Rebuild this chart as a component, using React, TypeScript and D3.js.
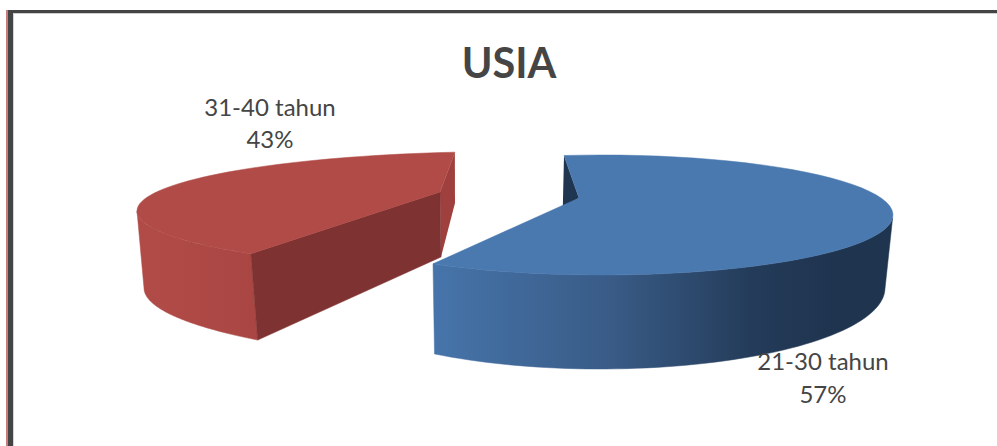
import React from "react";
import * as d3 from "d3";

// Chart content
const chartTitle = "USIA";
const categories = ["21-30 tahun", "31-40 tahun"];
const shares = [57, 43];

type Ellipse = { cx: number; cy: number; rx: number; ry: number };
type Pt = [number, number];

const WIDTH = 997;
const HEIGHT = 446;
const RAD = Math.PI / 180;

const pieAngles = d3.pie<number>().sort(null)(shares);

const pointOn = (e: Ellipse, t: number): Pt => [e.cx + e.rx * Math.cos(t), e.cy + e.ry * Math.sin(t)];

// Samples one slice's rim as screen points, walking the pie angle through a linear scale.
function rim(e: Ellipse, scale: d3.ScaleLinear<number, number>, a0: number, a1: number): Pt[] {
  return d3.range(0, 61).map((i) => pointOn(e, scale(a0 + ((a1 - a0) * i) / 60)));
}

const line = d3.line<Pt>();
const poly = (pts: Pt[]) => `${line(pts)}Z`;

// Blue slice: tilted disc, rim parameter runs from the back edge clockwise to the front-left corner
const blueArc = pieAngles[0];
const blueScale = d3.scaleLinear().domain([blueArc.startAngle, blueArc.endAngle]).range([-97.5 * RAD, 125.5 * RAD]);
const blueTop: Ellipse = { cx: 602, cy: 215, rx: 291, ry: 60 };
const blueBottom: Ellipse = { cx: 600, cy: 288, rx: 285, ry: 81 };
const blueHub: Pt = [579, 198];

const blueTopRim = rim(blueTop, blueScale, blueArc.startAngle, blueArc.endAngle);
const blueBottomRim = rim(blueBottom, blueScale, blueArc.startAngle, blueArc.endAngle);
const blueRightT = blueScale.invert(3 * RAD);
const blueFrontTop = rim(blueTop, blueScale, blueRightT, blueArc.endAngle);
const blueFrontBottom = rim(blueBottom, blueScale, blueRightT, blueArc.endAngle);
const blueInner: Pt[] = [blueTopRim[0], blueHub, blueBottomRim[0]];

// Red slice: pulled away to the left, drawn with its own projected rims
const redArc = pieAngles[1];
const redScale = d3.scaleLinear().domain([redArc.startAngle, redArc.endAngle]).range([134 * RAD, 261.5 * RAD]);
const redTop: Ellipse = { cx: 510, cy: 211, rx: 373, ry: 59.5 };
const redBottom: Ellipse = { cx: 630, cy: 288, rx: 486, ry: 81 };
const redHub: Pt = [440, 192];
const redHubBottom: Pt = [441, 257];
const redBackBottom: Pt = [455, 203];

const redTopRim = rim(redTop, redScale, redArc.startAngle, redArc.endAngle);
const redLeftAngle = redScale.invert(180 * RAD);
const redSideTop = rim(redTop, redScale, redArc.startAngle, redLeftAngle);
const redBottomScale = d3.scaleLinear().domain([redArc.startAngle, redLeftAngle]).range([140 * RAD, 180 * RAD]);
const redSideBottom = rim(redBottom, redBottomScale, redArc.startAngle, redLeftAngle);
const redFrontTop = redTopRim[0];
const redFrontBottom = redSideBottom[0];
const redBackTop = redTopRim[redTopRim.length - 1];

const labelFont = "Lato, 'Open Sans', sans-serif";
const inkColor = "#454545";

export default function App() {
  return (
    <svg
      width={WIDTH}
      height={HEIGHT}
      viewBox={`0 0 ${WIDTH} ${HEIGHT}`}
      style={{ position: "absolute", left: 0, top: 0, background: "#fff" }}
    >
      <defs>
        <linearGradient id="blueSide" gradientUnits="userSpaceOnUse" x1={434} x2={830} y1={0} y2={0}>
          <stop offset="0" stopColor="#4674aa" />
          <stop offset="0.45" stopColor="#395b86" />
          <stop offset="0.8" stopColor="#243c5a" />
          <stop offset="1" stopColor="#1f344f" />
        </linearGradient>
        <linearGradient id="redSide" gradientUnits="userSpaceOnUse" x1={137} x2={257} y1={0} y2={0}>
          <stop offset="0" stopColor="#b04b47" />
          <stop offset="0.3" stopColor="#af4a46" />
          <stop offset="1" stopColor="#a94643" />
        </linearGradient>
      </defs>

      {/* Frame */}
      <rect x={8} y={13} width={WIDTH - 8} height={1} fill="#cfcfcf" />
      <rect x={13} y={13} width={1} height={HEIGHT - 13} fill="#d4d4d4" />
      <rect x={6} y={10} width={2} height={HEIGHT - 10} fill="#c87d7d" />
      <rect x={8} y={10} width={WIDTH - 8} height={3} fill="#444444" />
      <rect x={8} y={10} width={5} height={HEIGHT - 10} fill="#444444" />

      {/* Red slice */}
      <path d={poly([redBackTop, redBackBottom, redHubBottom, redHub])} fill="#a0403e" />
      <path
        d={poly([...redSideTop, ...[...redSideBottom].reverse()])}
        fill="url(#redSide)"
        stroke="url(#redSide)"
        strokeWidth={0.5}
      />
      <path d={poly([redHub, redFrontTop, redFrontBottom, redHubBottom])} fill="#7e3231" stroke="#7e3231" strokeWidth={0.5} />
      <path d={poly([redHub, ...redTopRim])} fill="#b04b47" stroke="#b04b47" strokeWidth={0.5} />

      {/* Blue slice */}
      <path d={poly(blueInner)} fill="#1f3550" />
      <path
        d={poly([...blueFrontTop, ...[...blueFrontBottom].reverse()])}
        fill="url(#blueSide)"
        stroke="url(#blueSide)"
        strokeWidth={0.5}
      />
      <path d={poly([blueHub, ...blueTopRim])} fill="#4a79b0" stroke="#4a79b0" strokeWidth={0.5} />

      {/* Title and slice labels */}
      <text x={509} y={78} textAnchor="middle" fontFamily={labelFont} fontWeight={700} fontSize={41.5} fill={inkColor}>
        {chartTitle}
      </text>
      <g fontFamily={labelFont} fontSize={24} fill={inkColor} textAnchor="middle">
        <text x={270} y={116}>{categories[1]}</text>
        <text x={270} y={148}>{shares[1]}%</text>
        <text x={823} y={370}>{categories[0]}</text>
        <text x={823} y={403}>{shares[0]}%</text>
      </g>
    </svg>
  );
}
